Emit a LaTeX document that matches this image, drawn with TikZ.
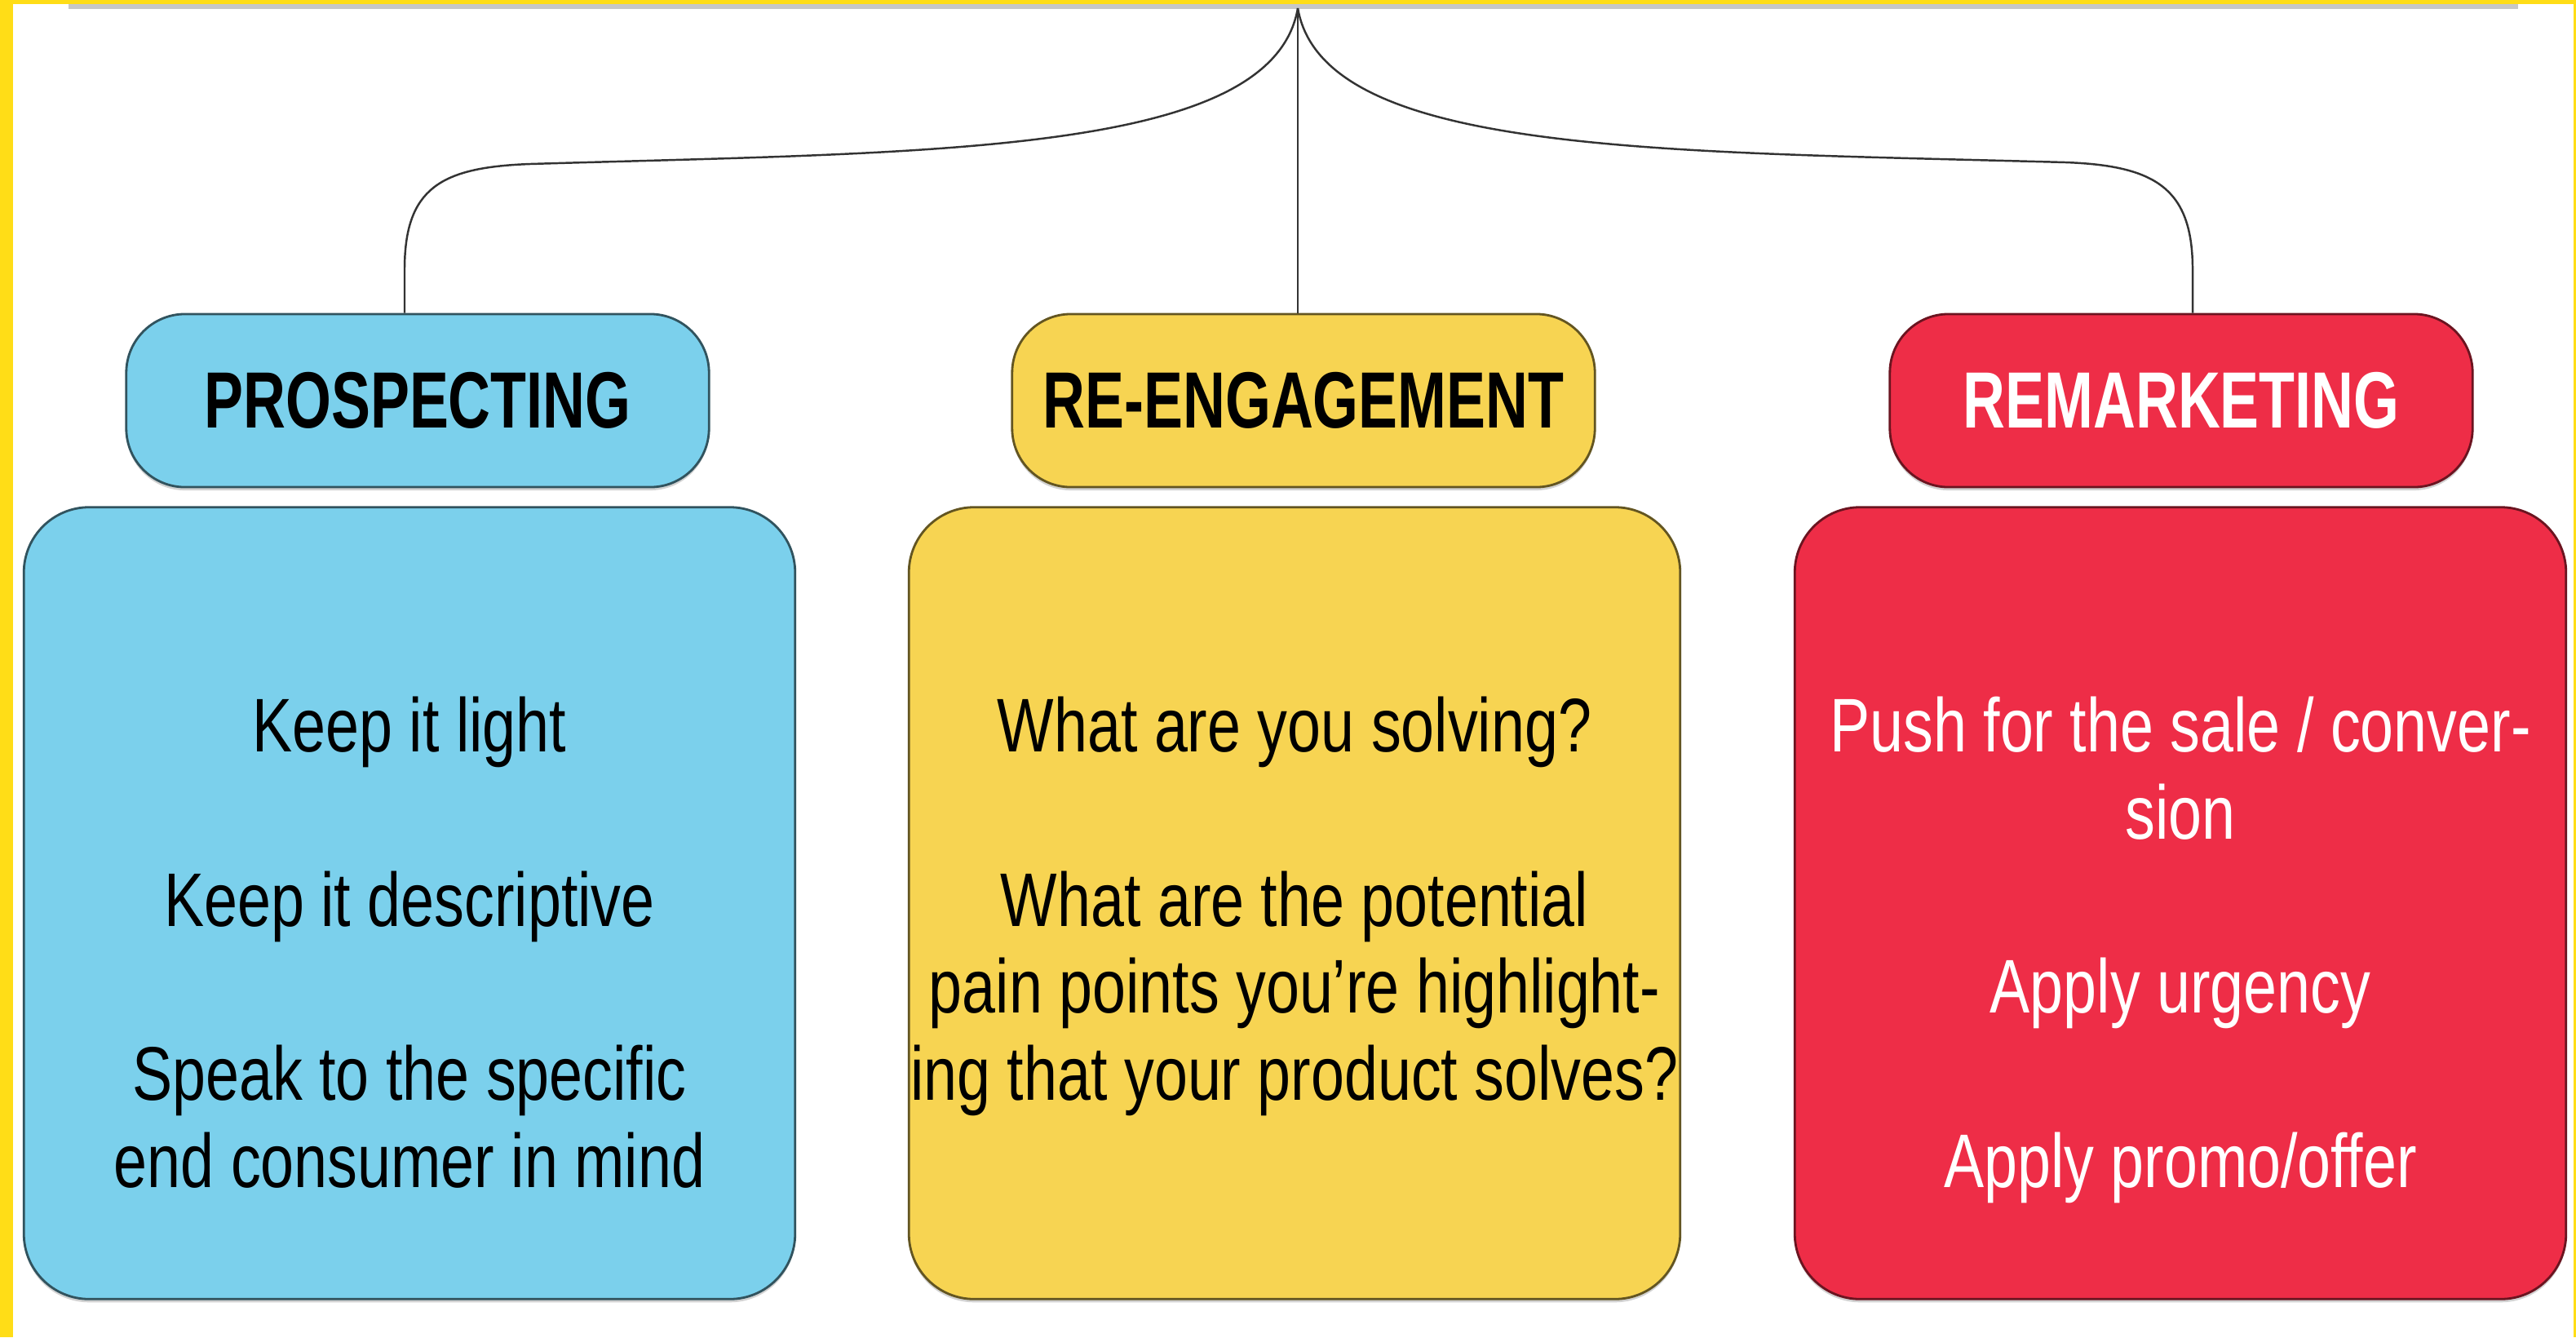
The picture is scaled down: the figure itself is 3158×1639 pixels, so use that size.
\documentclass[tikz,border=0pt]{standalone}
\usepackage{fontspec}
\newfontfamily\headfont[FakeStretch=0.735]{Liberation Sans}
\newfontfamily\bodyfont[FakeStretch=0.79]{Liberation Sans}
\usetikzlibrary{calc,shadows}
\definecolor{frameyellow}{HTML}{FFDD17}
\definecolor{cblue}{HTML}{7BD0EC}
\definecolor{cyellow}{HTML}{F7D452}
\definecolor{cred}{HTML}{EE2D47}
\definecolor{conncol}{HTML}{333333}
\begin{document}
\begin{tikzpicture}[x=0.01cm,y=-0.01cm,
  boxshadow/.style={drop shadow={shadow xshift=0pt,shadow yshift=-0.04cm,fill=black!35,opacity=0.5}},
  labelbox/.style={rounded corners=0.72cm, minimum width=7.14cm, minimum height=2.12cm,
    inner sep=0pt, line width=0.8pt, boxshadow,
    font=\headfont\bfseries\fontsize{27.8}{30}\selectfont},
  contentbox/.style={rounded corners=0.8cm, minimum width=9.45cm, minimum height=9.7cm,
    inner sep=0pt, line width=0.8pt, boxshadow},
  bodytext/.style={align=center, inner sep=0pt, anchor=north,
    font=\bodyfont\fontsize{26.5}{30.4}\selectfont},
  conn/.style={draw=conncol, line width=0.7pt}]
\useasboundingbox (0,0) rectangle (3158,1639);
\fill[white] (0,0) rectangle (3158,1639);
% frame
\fill[frameyellow] (0,0) rectangle (16,1639);
\fill[frameyellow] (0,0) rectangle (3158,5);
\fill[frameyellow] (3155,0) rectangle (3158,1639);
\draw[black!22, line width=1.7pt] (84,8) -- (3087,8);
% labels
\node[labelbox, fill=cblue, draw=cblue!40!black] (pros) at (512,491) {PROSPECTING};
\node[labelbox, fill=cyellow, draw=cyellow!40!black] (reeng) at (1598,491) {RE-ENGAGEMENT};
\node[labelbox, fill=cred, draw=cred!45!black, text=white] (rem) at (2674,491) {REMARKETING};
% content boxes
\node[contentbox, fill=cblue, draw=cblue!40!black] (bluebox) at (502,1107) {};
\node[contentbox, fill=cyellow, draw=cyellow!40!black] (yellowbox) at (1587,1107) {};
\node[contentbox, fill=cred, draw=cred!45!black] (redbox) at (2673,1107) {};
% texts
\node[bodytext] (bluetext) at (502,853) {Keep it light\\[30.4pt]Keep it descriptive\\[30.4pt]Speak to the specific\\end consumer in mind};
\node[bodytext] (yellowtext) at (1587,853) {What are you solving?\\[30.4pt]What are the potential\\pain points you’re highlight-\\ing that your product solves?};
\node[bodytext, text=white] (redtext) at (2673,853) {Push for the sale / conver-\\sion\\[30.4pt]Apply urgency\\[30.4pt]Apply promo/offer};
% connectors
\coordinate (apex) at (1591,10);
\coordinate (lfoot) at ([xshift=-0.16cm]pros.north);
\coordinate (rfoot) at ([xshift=0.14cm]rem.north);
\coordinate (lmid) at (650,201);
\coordinate (rmid) at (2532,199);
\draw[conn] (apex) -- (apex |- reeng.north);
\draw[conn] (apex) .. controls (1560,190) and (1150,186) .. (lmid)
  .. controls (540,205) and ($(lfoot)+(0,-153)$) .. ($(lfoot)+(0,-53)$) -- (lfoot);
\draw[conn] (apex) .. controls (1622,190) and (2032,185) .. (rmid)
  .. controls (2642,203) and ($(rfoot)+(0,-153)$) .. ($(rfoot)+(0,-53)$) -- (rfoot);
\end{tikzpicture}
\end{document}
